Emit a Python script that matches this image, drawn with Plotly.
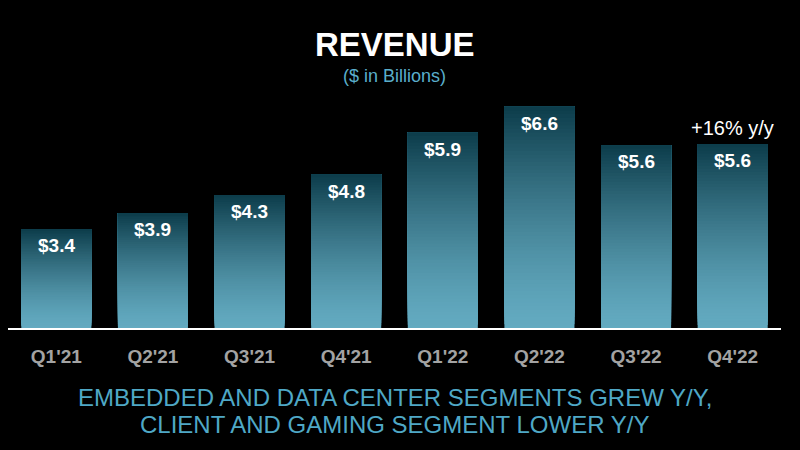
import plotly.graph_objects as go

quarters = ["Q1'21", "Q2'21", "Q3'21", "Q4'21", "Q1'22", "Q2'22", "Q3'22", "Q4'22"]
revenue = [3.45, 3.85, 4.31, 4.83, 5.89, 6.55, 5.57, 5.60]
labels = ["$3.4", "$3.9", "$4.3", "$4.8", "$5.9", "$6.6", "$5.6", "$5.6"]
growth_note = "+16% y/y"

W, H = 800, 450
MT, MB, ML, MR = 89, 122, 8, 19
PH = H - MT - MB
Y0, Y1 = 0.94, 7.0
N = 60
top_rgb = (12, 60, 74)
bot_rgb = (99, 170, 192)

fig = go.Figure()
for i in range(N):
    t = (i + 0.5) / N  # 0 bottom -> 1 top
    f = t ** 1.4
    col = tuple(round(bot_rgb[k] + (top_rgb[k] - bot_rgb[k]) * f) for k in range(3))
    fig.add_trace(go.Bar(
        x=quarters,
        base=[Y0 + (v - Y0) * i / N for v in revenue],
        y=[(v - Y0) * (N - i) / N for v in revenue],
        marker=dict(color="rgb(%d,%d,%d)" % col, line=dict(width=0)),
        hoverinfo="skip", showlegend=False,
    ))

for q, v, lab in zip(quarters, revenue, labels):
    fig.add_annotation(x=q, y=v, text="<b>%s</b>" % lab, showarrow=False,
                       yanchor="top", yshift=-4,
                       font=dict(family="Liberation Sans, Arial", size=19, color="white"))

fig.add_annotation(x=quarters[-1], y=revenue[-1], text=growth_note, showarrow=False,
                   yanchor="bottom", yshift=3,
                   font=dict(family="Liberation Sans, Arial", size=20, color="white"))

layout_texts = [
    ("<b>REVENUE</b>", 45, 33, "white"),
    ("($ in Billions)", 76, 18, "#5aaecb"),
    ("EMBEDDED AND DATA CENTER SEGMENTS GREW Y/Y,", 397, 24, "#4fa8c6"),
    ("CLIENT AND GAMING SEGMENT LOWER Y/Y", 424, 24, "#4fa8c6"),
]
for txt, ypx, sz, col in layout_texts:
    fig.add_annotation(x=0.5, xref="paper", y=(H - MB - ypx) / PH, yref="paper",
                       xanchor="center", yanchor="middle", text=txt, showarrow=False,
                       font=dict(family="Liberation Sans Narrow, Arial Narrow, Liberation Sans, Arial",
                                 size=sz, color=col))

fig.update_layout(
    width=W, height=H,
    paper_bgcolor="black", plot_bgcolor="black",
    barmode="overlay", bargap=0.275,
    margin=dict(l=ML, r=MR, t=MT, b=MB),
    xaxis=dict(showgrid=False, showline=True, linecolor="white", linewidth=1.5,
               ticks="", ticklabelstandoff=10,
               tickfont=dict(family="Liberation Sans, Arial", size=19, color="#a3a3a3", weight="bold")),
    yaxis=dict(range=[Y0, Y1], visible=False, showgrid=False),
)
fig.write_html("out.html", config={"displayModeBar": False},
               post_script="document.body.style.margin='0';document.body.style.background='black';")
